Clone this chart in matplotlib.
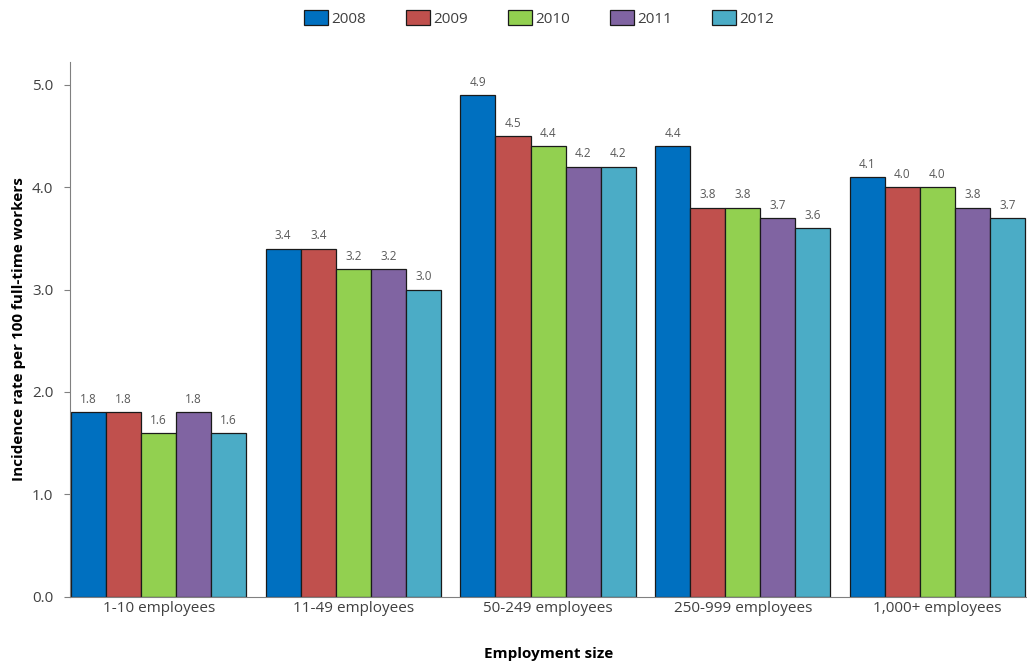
import numpy as np
import matplotlib.pyplot as plt
from matplotlib.patches import Patch

plt.rcParams['font.family'] = ['Open Sans', 'DejaVu Sans']

categories = ["1-10 employees", "11-49 employees", "50-249 employees",
              "250-999 employees", "1,000+ employees"]
years = ["2008", "2009", "2010", "2011", "2012"]
rate_2008 = [1.8, 3.4, 4.9, 4.4, 4.1]
rate_2009 = [1.8, 3.4, 4.5, 3.8, 4.0]
rate_2010 = [1.6, 3.2, 4.4, 3.8, 4.0]
rate_2011 = [1.8, 3.2, 4.2, 3.7, 3.8]
rate_2012 = [1.6, 3.0, 4.2, 3.6, 3.7]
series = [rate_2008, rate_2009, rate_2010, rate_2011, rate_2012]
colors = ["#0070C0", "#C0504D", "#92D050", "#8064A2", "#4BACC6"]

fig = plt.figure(figsize=(10.27, 6.64), dpi=100)
ax = fig.add_axes([0.0682, 0.101, 0.9318, 0.8056])

x = np.arange(len(categories))
w = 0.18
for i, (vals, c) in enumerate(zip(series, colors)):
    pos = x - 0.36 + i * w
    ax.bar(pos, vals, width=w, color=c, edgecolor="#1a1a1a", linewidth=0.9)
    for p, v in zip(pos, vals):
        ax.text(p, v + 0.06, f"{v:.1f}", ha="center", va="bottom",
                fontsize=8.5, color="#595959")

ax.set_xlim(-0.455, 4.46)
ax.set_ylim(0, 5.22)
ax.set_yticks([0, 1, 2, 3, 4, 5])
ax.set_yticklabels([f"{t:.1f}" for t in range(6)])
ax.set_xticks(x)
ax.set_xticklabels(categories)
ax.tick_params(axis="x", length=0, labelsize=11, colors="#404040", pad=3)
ax.tick_params(axis="y", length=4, labelsize=11, colors="#404040", pad=8,
               color="#808080")
ax.spines["top"].set_visible(False)
ax.spines["right"].set_visible(False)
ax.spines["left"].set_color("#808080")
ax.spines["bottom"].set_color("#808080")

ax.set_ylabel("Incidence rate per 100 full-time workers", fontsize=11,
              fontweight="bold", labelpad=4)
ax.set_xlabel("Employment size", fontsize=11, fontweight="bold", labelpad=22)

handles = [Patch(facecolor=c, edgecolor="#1a1a1a", linewidth=0.9) for c in colors]
fig.legend(handles, years, loc="upper center", bbox_to_anchor=(0.525, 1.005),
           ncol=5, frameon=False, fontsize=11, handlelength=1.6,
           handleheight=1.1, handletextpad=0.2, columnspacing=2.6,
           labelcolor="#404040")

fig.savefig("out.png", dpi=100)
